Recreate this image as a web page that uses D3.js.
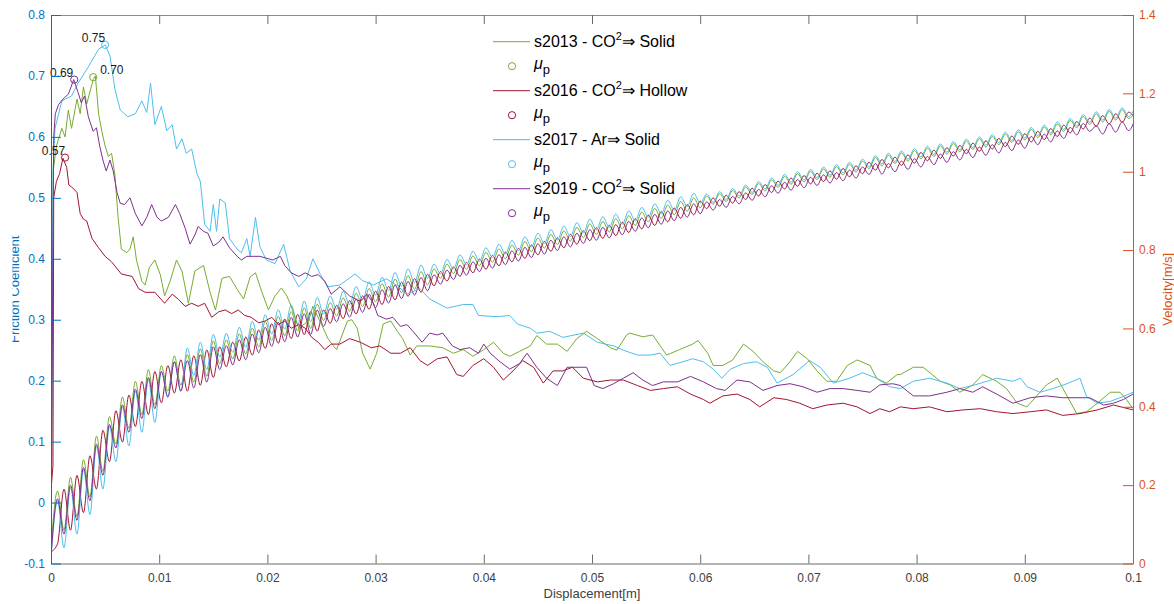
<!DOCTYPE html>
<html><head><meta charset="utf-8">
<script src="https://cdn.jsdelivr.net/npm/d3@7"></script>
<style>
html,body{margin:0;padding:0;background:#fff;}
svg{display:block;font-family:"Liberation Sans",Arial,Helvetica,sans-serif;}
</style></head><body>
<svg id="chart" width="1174" height="604"></svg>
<script>
// ---------------- DATA ----------------
const xTickValues = [0,10,20,30,40,50,60,70,80,90,100];            // displacement in mm
const xTickLabels = ["0","0.01","0.02","0.03","0.04","0.05","0.06","0.07","0.08","0.09","0.1"];
const yLeftTicks = [-0.1,0,0.1,0.2,0.3,0.4,0.5,0.6,0.7,0.8];
const yLeftTickLabels = ["-0.1","0","0.1","0.2","0.3","0.4","0.5","0.6","0.7","0.8"];
const yRightTicks = [0,0.2,0.4,0.6,0.8,1,1.2,1.4];
const yRightTickLabels = ["0","0.2","0.4","0.6","0.8","1","1.2","1.4"];

const seriesLabels = [
  ["s2013 - CO","2","\u21D2 Solid"],
  ["s2016 - CO","2","\u21D2 Hollow"],
  ["s2017 - Ar","","\u21D2 Solid"],
  ["s2019 - CO","2","\u21D2 Solid"]
];
const seriesColors = ["#77AC30","#A2142F","#4DBEEE","#7E2F8E"];

// friction coefficient [displacement mm, mu]
const frictionS2013 = [[0,-0.09],[0.1,0.2],[0.2,0.544],[0.5,0.585],[1.0,0.614],[1.3,0.6],[1.6,0.644],[1.9,0.614],[2.4,0.662],[2.7,0.638],[3.0,0.682],[3.3,0.654],[3.9,0.694],[4.1,0.70],[4.4,0.638],[4.7,0.609],[5.0,0.585],[5.3,0.568],[5.6,0.573],[5.9,0.539],[6.2,0.468],[6.5,0.416],[7.0,0.41],[7.3,0.416],[7.6,0.436],[7.9,0.398],[8.4,0.363],[8.7,0.357],[9.1,0.386],[9.6,0.398],[10.1,0.374],[10.5,0.339],[11.0,0.363],[11.6,0.398],[12.1,0.38],[12.7,0.327],[13.3,0.38],[14.1,0.389],[14.7,0.345],[15.2,0.316],[15.8,0.368],[16.5,0.371],[17.2,0.35],[17.8,0.334],[18.4,0.37],[18.9,0.377],[19.5,0.345],[20.1,0.316],[20.7,0.339],[21.3,0.352],[21.8,0.339],[22.2,0.322],[22.9,0.286],[23.8,0.298],[24.2,0.322],[25.0,0.292],[25.6,0.269],[26.1,0.257],[26.4,0.251],[27.4,0.298],[27.8,0.30],[28.3,0.286],[28.8,0.245],[29.5,0.219],[30.1,0.245],[30.7,0.293],[31.4,0.298],[32.0,0.281],[32.5,0.269],[33.2,0.242],[33.8,0.257],[35.0,0.257],[36.2,0.254],[37.2,0.245],[38.1,0.251],[39.0,0.24],[40.0,0.251],[40.9,0.263],[41.8,0.245],[42.4,0.24],[43.3,0.248],[44.3,0.257],[44.9,0.274],[45.8,0.26],[46.8,0.26],[47.7,0.248],[48.6,0.269],[49.5,0.281],[50.5,0.269],[51.7,0.254],[52.3,0.25],[53.2,0.275],[53.5,0.278],[54.7,0.272],[55.6,0.275],[56.9,0.242],[58.1,0.251],[59.3,0.26],[59.8,0.266],[60.7,0.245],[61.2,0.225],[62.1,0.225],[63.0,0.234],[64.0,0.26],[64.9,0.248],[65.8,0.231],[66.8,0.216],[67.4,0.213],[68.3,0.231],[69.0,0.248],[69.9,0.236],[70.8,0.216],[71.7,0.199],[72.6,0.199],[73.6,0.225],[74.5,0.234],[75.7,0.225],[76.3,0.204],[77.2,0.196],[78.2,0.21],[78.5,0.21],[79.7,0.222],[80.6,0.222],[82.2,0.199],[83.1,0.193],[84.0,0.181],[85.2,0.193],[86.1,0.21],[87.4,0.199],[88.3,0.187],[89.3,0.163],[90.2,0.157],[91.1,0.175],[92.0,0.193],[93.0,0.204],[93.9,0.175],[94.8,0.146],[95.7,0.149],[96.7,0.163],[97.9,0.181],[98.8,0.181],[99.4,0.169],[100,0.154]];

const frictionS2016 = [[0,0.02],[0.18,0.06],[0.25,0.5],[0.5,0.527],[0.8,0.54],[1.1,0.565],[1.45,0.55],[1.65,0.521],[1.9,0.518],[2.4,0.509],[2.7,0.474],[3.0,0.465],[3.3,0.462],[3.8,0.433],[4.4,0.418],[5.0,0.404],[5.6,0.395],[6.5,0.375],[7.5,0.371],[8.1,0.351],[8.7,0.345],[9.6,0.345],[10.5,0.327],[11.2,0.342],[11.8,0.333],[12.4,0.322],[13.0,0.327],[13.6,0.322],[14.2,0.327],[14.85,0.304],[15.5,0.313],[16.1,0.316],[16.7,0.31],[17.3,0.316],[17.9,0.307],[18.5,0.304],[19.2,0.295],[19.8,0.298],[20.4,0.304],[21.0,0.292],[21.6,0.298],[22.2,0.286],[22.9,0.292],[23.5,0.286],[24.1,0.271],[24.7,0.263],[25.3,0.251],[25.9,0.26],[26.7,0.26],[27.6,0.269],[28.6,0.263],[29.6,0.254],[30.4,0.257],[31.4,0.245],[32.3,0.245],[33.2,0.254],[34.1,0.233],[34.8,0.225],[35.7,0.236],[36.6,0.239],[37.5,0.21],[38.1,0.207],[39.0,0.225],[40.0,0.236],[40.9,0.222],[41.8,0.201],[42.7,0.216],[43.6,0.233],[44.6,0.222],[45.5,0.196],[46.4,0.216],[47.3,0.216],[48.2,0.222],[49.2,0.204],[50.5,0.198],[51.7,0.201],[52.9,0.201],[54.2,0.192],[55.4,0.184],[56.6,0.187],[57.9,0.19],[59.1,0.178],[60.3,0.169],[60.9,0.163],[62.1,0.175],[63.4,0.178],[64.6,0.169],[65.5,0.157],[66.8,0.172],[68.0,0.169],[69.2,0.163],[70.4,0.154],[71.7,0.16],[73.2,0.163],[74.5,0.157],[75.7,0.146],[76.6,0.154],[77.5,0.149],[78.5,0.157],[79.7,0.154],[81.2,0.157],[82.8,0.149],[84.3,0.152],[85.9,0.154],[87.4,0.149],[88.9,0.146],[90.5,0.149],[92.0,0.152],[93.5,0.143],[95.1,0.146],[96.7,0.152],[98.2,0.16],[100,0.152]];

const frictionS2017 = [[0,-0.08],[0.1,0.3],[0.2,0.55],[0.37,0.614],[1.0,0.659],[1.9,0.667],[2.5,0.688],[3.45,0.715],[4.4,0.744],[5.0,0.751],[5.45,0.733],[5.9,0.679],[6.4,0.644],[7.1,0.633],[7.8,0.638],[8.4,0.659],[8.85,0.64],[9.2,0.688],[9.6,0.62],[10.2,0.65],[10.7,0.61],[11.2,0.62],[11.6,0.58],[12.1,0.597],[12.5,0.573],[13.0,0.58],[13.5,0.539],[13.8,0.527],[14.2,0.457],[14.7,0.445],[15.0,0.489],[15.3,0.445],[15.6,0.498],[16.1,0.492],[16.5,0.433],[17.2,0.416],[17.6,0.41],[18.1,0.433],[18.4,0.404],[18.9,0.468],[19.3,0.42],[19.9,0.398],[20.7,0.392],[21.5,0.424],[22.1,0.38],[22.9,0.354],[23.6,0.367],[24.2,0.40],[24.9,0.374],[25.6,0.354],[26.7,0.357],[28.1,0.375],[28.8,0.364],[29.8,0.357],[31.0,0.367],[32.0,0.356],[32.9,0.342],[34.1,0.351],[35.0,0.334],[36.6,0.319],[38.1,0.325],[39.0,0.325],[39.5,0.307],[41.2,0.305],[42.4,0.307],[43.1,0.293],[44.3,0.286],[44.9,0.278],[46.1,0.281],[47.3,0.271],[49.2,0.278],[50.5,0.263],[52.0,0.257],[52.9,0.25],[54.2,0.242],[55.4,0.242],[56.3,0.245],[57.2,0.225],[58.4,0.231],[59.3,0.236],[60.3,0.231],[61.2,0.219],[62.0,0.204],[62.8,0.219],[64.0,0.228],[65.2,0.231],[66.2,0.222],[67.1,0.196],[68.6,0.21],[70.1,0.233],[71.1,0.222],[72.3,0.196],[73.8,0.204],[75.0,0.213],[76.3,0.204],[77.5,0.19],[78.5,0.187],[79.7,0.199],[81.2,0.204],[82.8,0.196],[84.0,0.187],[85.2,0.192],[86.5,0.199],[87.4,0.204],[88.9,0.199],[89.6,0.204],[90.2,0.19],[91.4,0.181],[92.6,0.187],[93.9,0.195],[95.1,0.204],[95.7,0.174],[96.7,0.163],[97.9,0.166],[99.1,0.174],[100,0.181]];

const frictionS2019 = [[0,-0.07],[0.1,0.2],[0.25,0.6],[0.4,0.638],[0.7,0.653],[1.1,0.662],[1.6,0.67],[2.1,0.694],[2.5,0.673],[2.8,0.656],[3.1,0.667],[3.45,0.633],[3.9,0.609],[4.2,0.615],[4.5,0.585],[4.8,0.562],[5.1,0.544],[5.45,0.562],[5.75,0.544],[6.1,0.509],[6.4,0.491],[6.8,0.489],[7.3,0.50],[7.8,0.474],[8.4,0.454],[8.85,0.468],[9.3,0.489],[9.8,0.468],[10.2,0.462],[10.85,0.468],[11.5,0.489],[11.9,0.474],[12.4,0.45],[12.85,0.424],[13.3,0.439],[13.6,0.453],[14.1,0.445],[14.5,0.442],[15.0,0.421],[15.5,0.427],[15.9,0.436],[16.5,0.418],[17.2,0.404],[17.6,0.398],[18.1,0.404],[18.7,0.404],[19.3,0.404],[19.9,0.401],[20.5,0.398],[21.2,0.404],[21.6,0.389],[22.2,0.377],[22.9,0.371],[23.5,0.377],[24.1,0.371],[24.7,0.374],[25.3,0.363],[25.9,0.342],[26.7,0.354],[27.6,0.339],[28.6,0.33],[29.2,0.342],[29.8,0.327],[30.2,0.307],[31.0,0.301],[31.6,0.304],[32.3,0.289],[32.9,0.292],[33.5,0.28],[34.3,0.263],[35.0,0.278],[35.7,0.275],[36.2,0.278],[37.1,0.257],[37.8,0.251],[38.7,0.254],[39.5,0.245],[40.0,0.26],[40.6,0.245],[41.5,0.231],[42.4,0.219],[43.3,0.228],[44.0,0.245],[44.9,0.222],[45.8,0.204],[46.8,0.192],[47.7,0.222],[48.6,0.222],[49.5,0.222],[50.2,0.192],[51.0,0.187],[52.0,0.195],[52.9,0.204],[53.8,0.213],[54.7,0.201],[55.6,0.192],[56.6,0.198],[57.9,0.198],[59.1,0.207],[60.3,0.198],[61.5,0.187],[62.3,0.184],[63.4,0.201],[64.6,0.198],[65.8,0.184],[67.1,0.192],[68.3,0.195],[69.5,0.19],[70.8,0.181],[72.0,0.187],[73.2,0.187],[74.5,0.184],[75.7,0.181],[76.6,0.193],[77.8,0.195],[78.5,0.192],[79.7,0.175],[81.2,0.175],[82.8,0.181],[84.0,0.187],[85.2,0.181],[86.1,0.19],[87.4,0.178],[88.9,0.163],[90.5,0.172],[92.0,0.175],[93.5,0.172],[95.1,0.172],[96.0,0.172],[97.3,0.16],[98.2,0.163],[99.1,0.169],[100,0.178]];

// velocity [m/s], one sample every 0.6 mm of displacement
const velocityStepMm = 0.6;
const velocityS2013 = [0.04,0.185,0.085,0.22,0.12,0.265,0.17,0.325,0.235,0.375,
0.305,0.425,0.345,0.465,0.38,0.495,0.405,0.505,0.44,0.53,
0.455,0.533,0.463,0.548,0.478,0.568,0.51,0.571,0.522,0.586,
0.535,0.601,0.553,0.618,0.569,0.631,0.581,0.643,0.593,0.653,
0.60,0.662,0.62,0.666,0.632,0.678,0.644,0.69,0.656,0.702,
0.668,0.714,0.68,0.726,0.691,0.735,0.70,0.745,0.711,0.752,
0.728,0.764,0.74,0.776,0.751,0.785,0.76,0.794,0.769,0.803,
0.778,0.813,0.787,0.822,0.796,0.831,0.805,0.84,0.814,0.849,
0.823,0.858,0.832,0.867,0.84,0.873,0.846,0.88,0.854,0.888,
0.863,0.897,0.872,0.906,0.881,0.915,0.89,0.924,0.899,0.933,
0.908,0.938,0.917,0.944,0.924,0.952,0.933,0.961,0.942,0.97,
0.951,0.979,0.96,0.988,0.968,0.995,0.974,1.001,0.98,1.007,
0.986,1.013,0.992,1.019,0.999,1.027,1.008,1.036,1.015,1.042,
1.021,1.048,1.027,1.054,1.033,1.06,1.039,1.066,1.045,1.072,
1.051,1.078,1.057,1.084,1.063,1.09,1.069,1.096,1.075,1.102,
1.081,1.108,1.087,1.114,1.094,1.122,1.103,1.131,1.112,1.141,
1.121,1.148,1.127,1.154,1.132,1.158,1.136,1.151];

const velocityS2016 = [0.03,0.05,0.19,0.085,0.225,0.13,0.275,0.19,0.34,0.26,
0.39,0.31,0.43,0.35,0.465,0.38,0.49,0.41,0.505,0.435,
0.52,0.44,0.53,0.455,0.545,0.475,0.553,0.502,0.565,0.517,
0.578,0.532,0.596,0.549,0.612,0.562,0.624,0.574,0.636,0.584,
0.643,0.593,0.647,0.613,0.659,0.625,0.671,0.637,0.683,0.649,
0.695,0.661,0.707,0.673,0.718,0.682,0.727,0.692,0.738,0.709,
0.745,0.721,0.757,0.733,0.768,0.742,0.777,0.751,0.786,0.76,
0.795,0.77,0.804,0.779,0.813,0.788,0.822,0.797,0.831,0.806,
0.84,0.815,0.849,0.824,0.857,0.83,0.863,0.837,0.871,0.845,
0.88,0.854,0.889,0.863,0.898,0.872,0.907,0.881,0.916,0.89,
0.925,0.906,0.933,0.912,0.94,0.92,0.949,0.929,0.958,0.938,
0.967,0.947,0.976,0.956,0.984,0.963,0.99,0.969,0.996,0.975,
1.002,0.981,1.008,0.987,1.015,0.995,1.024,1.004,1.031,1.01,
1.037,1.016,1.043,1.022,1.049,1.028,1.055,1.034,1.061,1.04,
1.067,1.046,1.073,1.052,1.079,1.058,1.085,1.064,1.091,1.07,
1.097,1.076,1.103,1.082,1.11,1.09,1.119,1.099,1.128,1.109,
1.137,1.116,1.143,1.122,1.148,1.126,1.152,1.136];

const velocityS2017 = [0.01,0.16,0.04,0.195,0.075,0.24,0.125,0.30,0.19,0.35,
0.26,0.40,0.30,0.44,0.335,0.47,0.36,0.49,0.425,0.515,
0.44,0.55,0.48,0.565,0.495,0.585,0.527,0.588,0.539,0.603,
0.552,0.618,0.57,0.635,0.586,0.648,0.598,0.66,0.61,0.67,
0.617,0.679,0.637,0.683,0.649,0.695,0.661,0.707,0.673,0.719,
0.685,0.731,0.697,0.743,0.708,0.752,0.717,0.762,0.728,0.764,
0.74,0.776,0.752,0.788,0.763,0.797,0.772,0.806,0.781,0.815,
0.79,0.825,0.799,0.834,0.808,0.843,0.817,0.852,0.826,0.861,
0.835,0.87,0.844,0.879,0.852,0.885,0.858,0.892,0.866,0.90,
0.875,0.909,0.884,0.918,0.893,0.927,0.902,0.936,0.911,0.945,
0.92,0.943,0.922,0.949,0.929,0.957,0.938,0.966,0.947,0.975,
0.956,0.984,0.965,0.993,0.973,1.0,0.979,1.006,0.985,1.012,
0.991,1.018,0.997,1.024,1.004,1.032,1.013,1.041,1.02,1.047,
1.026,1.053,1.032,1.059,1.038,1.065,1.044,1.071,1.05,1.077,
1.056,1.083,1.062,1.089,1.068,1.095,1.074,1.101,1.08,1.107,
1.086,1.113,1.092,1.119,1.099,1.127,1.108,1.136,1.117,1.146,
1.126,1.153,1.132,1.159,1.137,1.163,1.141,1.166];

const velocityS2019 = [0.02,0.165,0.075,0.20,0.11,0.245,0.16,0.305,0.225,0.355,
0.295,0.405,0.335,0.445,0.37,0.475,0.395,0.49,0.425,0.515,
0.44,0.518,0.448,0.533,0.463,0.553,0.495,0.556,0.507,0.571,
0.52,0.586,0.538,0.603,0.554,0.616,0.566,0.628,0.578,0.638,
0.585,0.647,0.605,0.651,0.617,0.663,0.629,0.675,0.641,0.687,
0.653,0.699,0.665,0.711,0.676,0.72,0.685,0.73,0.696,0.737,
0.713,0.749,0.725,0.761,0.736,0.77,0.745,0.779,0.754,0.788,
0.763,0.798,0.772,0.807,0.781,0.816,0.79,0.825,0.799,0.834,
0.808,0.843,0.817,0.852,0.825,0.858,0.831,0.865,0.839,0.873,
0.848,0.882,0.857,0.891,0.866,0.90,0.875,0.909,0.884,0.918,
0.893,0.923,0.902,0.929,0.909,0.937,0.918,0.946,0.927,0.955,
0.936,0.964,0.945,0.973,0.953,0.98,0.959,0.986,0.965,0.992,
0.971,0.998,0.977,1.004,0.984,1.012,0.993,1.021,0.994,1.021,
1.0,1.027,1.006,1.033,1.012,1.039,1.018,1.045,1.024,1.051,
1.03,1.057,1.036,1.063,1.042,1.069,1.048,1.075,1.054,1.081,
1.06,1.09,1.069,1.096,1.076,1.104,1.085,1.113,1.094,1.123,
1.103,1.117,1.096,1.123,1.101,1.127,1.105,1.136];

// peak friction (mu_p) per series
const peakX = [3.9, 1.3, 5.0, 2.15];
const peakY = [0.698, 0.566, 0.751, 0.694];
const peakLabels = ["0.70","0.57","0.75","0.69"];

// ---------------- LAYOUT / STYLE ----------------
const plot = {left:51, right:1133, top:15, bottom:563.5};
const leftColor = "#0072BD", rightColor = "#D95319", axisGray = "#262626";
const peakLabelAnchor = ["start","end","end","end"];
const peakLabelDx = [7,0,0,-1];

const svg = d3.select("#chart");
const x = d3.scaleLinear().domain([0,100]).range([plot.left, plot.right]);
const yL = d3.scaleLinear().domain([-0.1,0.8]).range([plot.bottom, plot.top]);
const yR = d3.scaleLinear().domain([0,1.4]).range([plot.bottom, plot.top]);

svg.append("defs").call(d=>{
  d.append("clipPath").attr("id","plotclip").append("rect")
    .attr("x",plot.left).attr("y",plot.top-2).attr("width",plot.right-plot.left).attr("height",plot.bottom-plot.top+4);
  d.append("clipPath").attr("id","lblclip").append("rect")
    .attr("x",12.5).attr("y",0).attr("width",30).attr("height",604);
});

function styleAxis(g, color, size){
  g.attr("font-family",null).attr("font-size",null);
  g.select(".domain").attr("stroke",color).attr("stroke-width",1);
  g.selectAll(".tick line").attr("stroke",color).attr("stroke-width",1);
  g.selectAll(".tick text").attr("fill",color).style("font-size",size+"px");
}

// bottom and top axes
const gB = svg.append("g").attr("transform",`translate(0,${plot.bottom})`)
  .call(d3.axisBottom(x).tickValues(xTickValues).tickFormat((d,i)=>xTickLabels[i]).tickSizeInner(-9).tickSizeOuter(0).tickPadding(10));
styleAxis(gB, axisGray, 12);
gB.selectAll(".tick text").attr("fill","#404040");
const gT = svg.append("g").attr("transform",`translate(0,${plot.top})`)
  .call(d3.axisTop(x).tickValues(xTickValues).tickFormat("").tickSizeInner(-9).tickSizeOuter(0));
styleAxis(gT, axisGray, 12);
gT.select(".domain").attr("stroke","#8c8c8c");
gB.select(".domain").attr("stroke","#6a6a6a");
gT.selectAll(".tick line").attr("stroke","#6a6a6a");
gB.selectAll(".tick line").attr("stroke","#6a6a6a");

// data lines
const gData = svg.append("g").attr("clip-path","url(#plotclip)");
const velocities = [velocityS2013, velocityS2016, velocityS2017, velocityS2019];
const frictions = [frictionS2013, frictionS2016, frictionS2017, frictionS2019];
const velLine = d3.line().x((d,i)=>x(i*velocityStepMm)).y(d=>yR(d)).curve(d3.curveMonotoneX);
const friLine = d3.line().x(d=>x(d[0])).y(d=>yL(d[1]));

velocities.forEach((v,k)=>{
  gData.append("path").attr("d",velLine(v)).attr("fill","none")
    .attr("stroke",seriesColors[k]).attr("stroke-width",1).attr("stroke-linejoin","round");
});
frictions.forEach((f,k)=>{
  gData.append("path").attr("d",friLine(f)).attr("fill","none")
    .attr("stroke",seriesColors[k]).attr("stroke-width",1).attr("stroke-linejoin","round");
});

// peak markers and labels
peakX.forEach((px,k)=>{
  svg.append("circle").attr("cx",x(px)).attr("cy",yL(peakY[k])).attr("r",3.6)
    .attr("fill","none").attr("stroke",seriesColors[k]).attr("stroke-width",1);
  svg.append("text").attr("x",x(px)+peakLabelDx[k]).attr("y",yL(peakY[k])-3)
    .attr("text-anchor",peakLabelAnchor[k]).attr("fill","#1a1a1a").style("font-size","12px")
    .text(peakLabels[k]);
});

// left and right axes
const gL = svg.append("g").attr("transform",`translate(${plot.left},0)`)
  .call(d3.axisLeft(yL).tickValues(yLeftTicks).tickFormat((d,i)=>yLeftTickLabels[i]).tickSizeInner(-10).tickSizeOuter(0).tickPadding(6));
styleAxis(gL, leftColor, 12);
const gR = svg.append("g").attr("transform",`translate(${plot.right},0)`)
  .call(d3.axisRight(yR).tickValues(yRightTicks).tickFormat((d,i)=>yRightTickLabels[i]).tickSizeInner(-10).tickSizeOuter(0).tickPadding(6));
styleAxis(gR, rightColor, 12);

// axis titles
svg.append("text").attr("x",(plot.left+plot.right)/2).attr("y",598).attr("text-anchor","middle")
  .attr("fill","#404040").style("font-size","13px").text("Displacement[m]");
svg.append("g").attr("clip-path","url(#lblclip)").append("text")
  .attr("transform",`translate(18.5,${(plot.top+plot.bottom)/2}) rotate(-90)`).attr("text-anchor","middle")
  .attr("fill",leftColor).style("font-size","13px").text("Friction Coefficient");
svg.append("text")
  .attr("transform",`translate(1172,${(plot.top+plot.bottom)/2}) rotate(-90)`).attr("text-anchor","middle")
  .attr("fill",rightColor).style("font-size","13px").text("Velocity[m/s]");

// legend
const lg = {x0:493, x1:530, cx:512, tx:534, y0:41.7, dy:24.5};
seriesLabels.forEach((parts,k)=>{
  const yLine = lg.y0 + (2*k)*lg.dy, yMark = lg.y0 + (2*k+1)*lg.dy;
  svg.append("line").attr("x1",lg.x0).attr("x2",lg.x1).attr("y1",yLine).attr("y2",yLine)
    .attr("stroke",seriesColors[k]).attr("stroke-width",1);
  const t = svg.append("text").attr("x",lg.tx).attr("y",yLine+5.5).attr("fill","#000").style("font-size","16px");
  t.append("tspan").text(parts[0]);
  if (parts[1]) {
    t.append("tspan").attr("dy",-7).style("font-size","11px").text(parts[1]);
    t.append("tspan").attr("dy",7).text(parts[2]);
  } else {
    t.append("tspan").text(parts[2]);
  }
  svg.append("circle").attr("cx",lg.cx).attr("cy",yMark).attr("r",3.6)
    .attr("fill","none").attr("stroke",seriesColors[k]).attr("stroke-width",1);
  const m = svg.append("text").attr("x",lg.tx).attr("y",yMark+3).attr("fill","#000").style("font-size","16px");
  m.append("tspan").attr("font-style","italic").text("\u03BC");
  m.append("tspan").attr("dy",5).style("font-size","13px").text("p");
});
</script>
</body></html>
